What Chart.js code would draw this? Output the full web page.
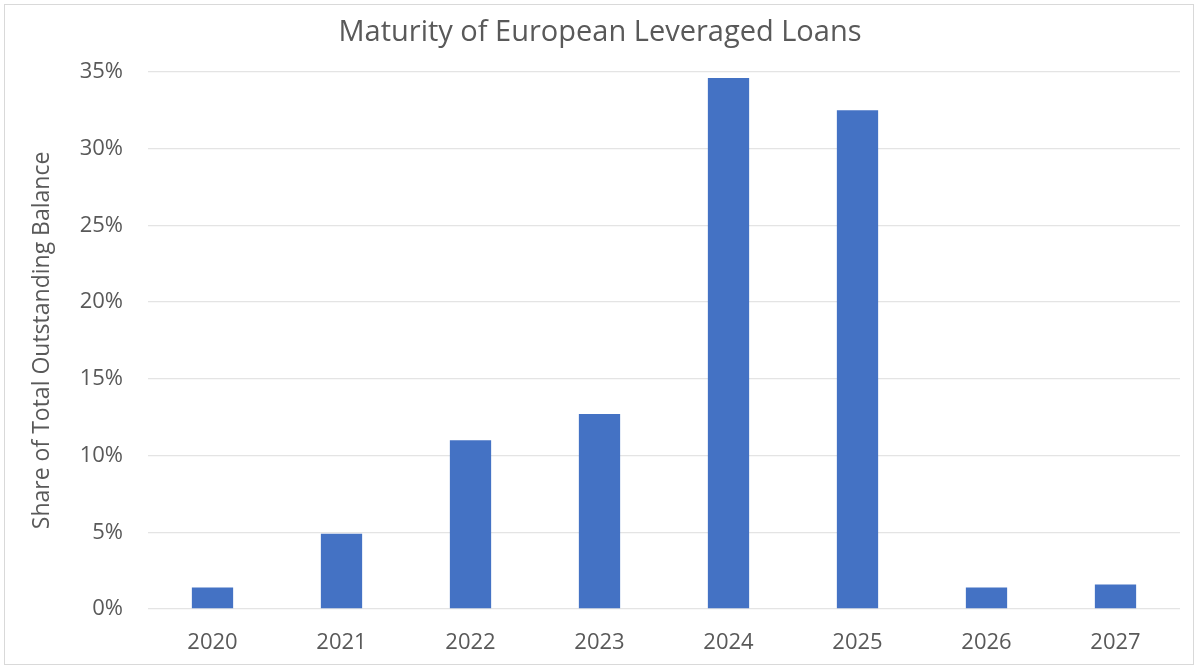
<!DOCTYPE html>
<html>
<head>
<meta charset="utf-8">
<script src="https://cdn.jsdelivr.net/npm/chart.js@4"></script>
<style>
  body { margin: 0; background: #fff; }
  #wrap { position: relative; width: 1200px; height: 669px; }
  #frame { position: absolute; left: 4px; top: 4px; width: 1188px; height: 659px; border: 1px solid #d9d9d9; }
  canvas { position: absolute; left: 0; top: 0; }
</style>
</head>
<body>
<div id="wrap">
  <div id="frame"></div>
  <canvas id="maturityChart" width="1200" height="669"></canvas>
</div>
<script>
// dados do grafico
var years = ['2020', '2021', '2022', '2023', '2024', '2025', '2026', '2027']
var shares = [1.4, 4.9, 11.0, 12.7, 34.6, 32.5, 1.4, 1.6]
var tickValues = [0, 5, 10, 15, 20, 25, 30, 35]

var textColor = '#595959'
var fontName = '"Open Sans", Lato, sans-serif'

var data = {
  labels: years,
  datasets: [{
    label: 'Share of Total Outstanding Balance',
    data: shares,
    backgroundColor: '#4472c4',
    categoryPercentage: 1,
    barPercentage: 0.32
  }]
}

var options = {
  responsive: false,
  animation: false,
  layout: { padding: { top: 10, left: 20, right: 20, bottom: 10 } },
  plugins: {
    legend: { display: false },
    tooltip: { enabled: false },
    title: {
      display: true,
      text: 'Maturity of European Leveraged Loans',
      color: textColor,
      font: { family: fontName, size: 29, weight: 'normal' },
      padding: { top: 5, bottom: 22 }
    }
  },
  scales: {
    x: {
      grid: { display: false },
      border: { display: false },
      ticks: { color: textColor, font: { family: fontName, size: 22 }, padding: 13 },
      afterFit: function(scale){ scale.height = 50 }
    },
    y: {
      min: 0,
      max: 35,
      afterBuildTicks: function(scale){
        scale.ticks = tickValues.map(v => ({ value: v }))
      },
      grid: { color: '#e4e4e4', lineWidth: 1.3, drawTicks: false },
      border: { display: false },
      ticks: {
        color: textColor,
        font: { family: fontName, size: 22 },
        padding: 25,
        callback: function(v){ return v + '%' }
      },
      title: {
        display: true,
        text: 'Share of Total Outstanding Balance',
        color: textColor,
        font: { family: fontName, size: 23 },
        padding: { top: 9, bottom: 0 }
      },
      afterFit: function(scale){ scale.width = 128 }
    }
  }
}

var chart1 = new Chart('maturityChart', { type: 'bar', data: data, options: options })
</script>
</body>
</html>
